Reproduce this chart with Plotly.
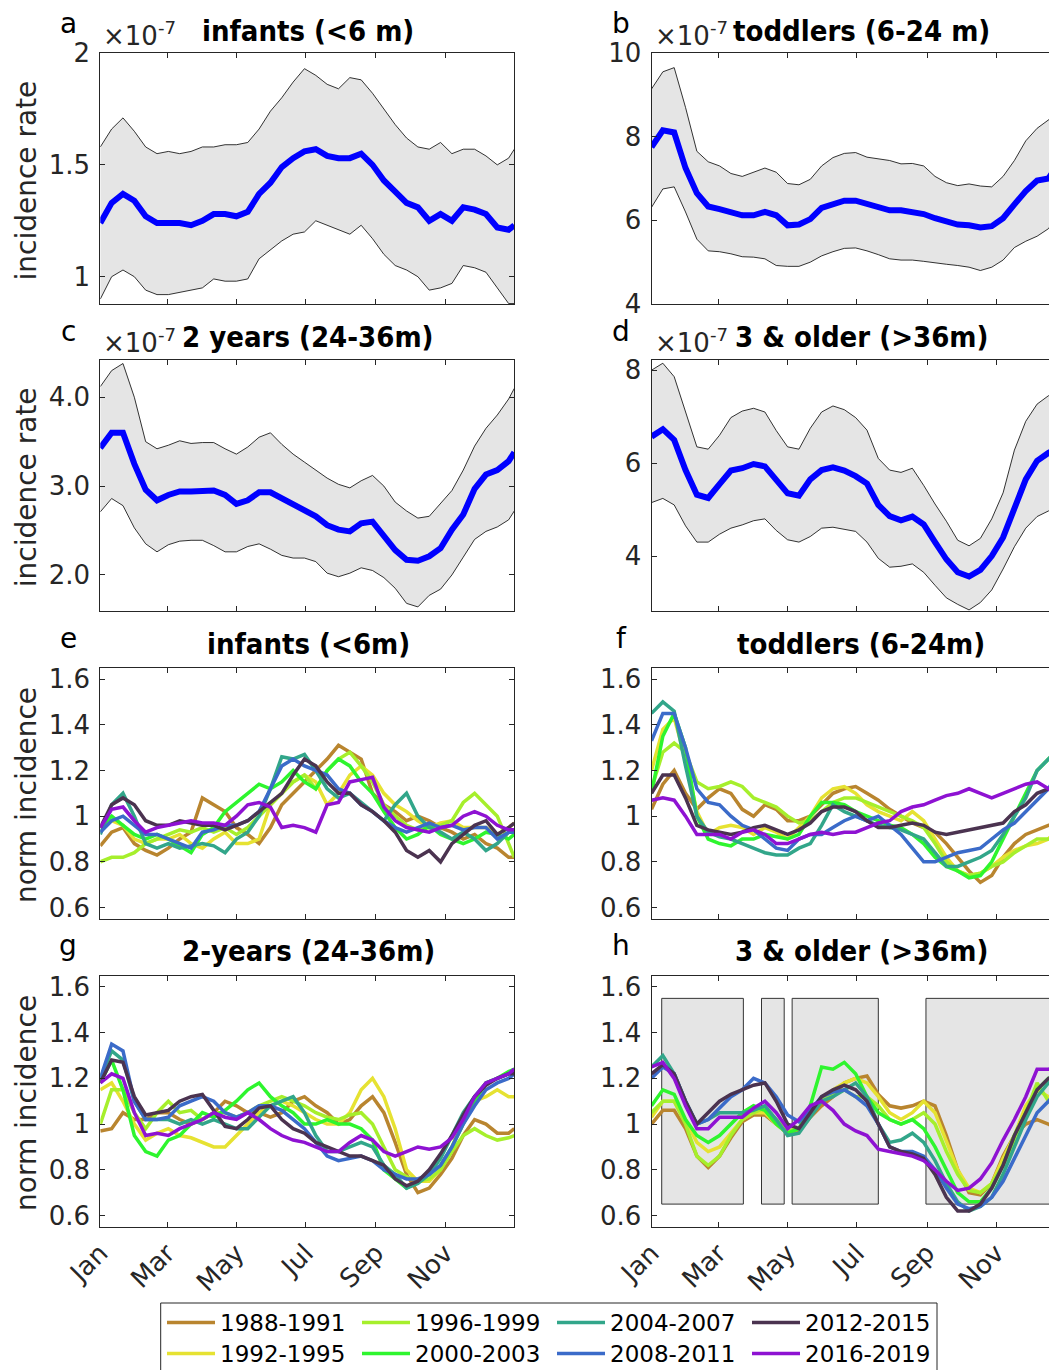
import plotly.graph_objects as go

# ---------------- data ----------------
DAYS = [0, 10, 20, 30, 40, 50, 60, 70, 80, 90, 100, 110, 120, 130, 140, 150, 160, 170, 180,
        190, 200, 210, 220, 230, 240, 250, 260, 270, 280, 290, 300, 310, 320, 330, 340, 350, 360, 365]
MONTH_TICKS = [0, 59, 120, 181, 243, 304]
MONTH_LABELS = ["Jan", "Mar", "May", "Jul", "Sep", "Nov"]

# panel a (x1e-7)
A_MEAN = [1.24, 1.33, 1.37, 1.34, 1.27, 1.24, 1.24, 1.24, 1.23, 1.25, 1.28, 1.28, 1.27, 1.29, 1.37, 1.42, 1.49, 1.53, 1.56,
          1.57, 1.54, 1.53, 1.53, 1.55, 1.50, 1.43, 1.38, 1.33, 1.31, 1.25, 1.28, 1.25, 1.31, 1.30, 1.28, 1.22, 1.21, 1.23]
A_UP = [1.58, 1.66, 1.71, 1.65, 1.58, 1.55, 1.56, 1.55, 1.56, 1.58, 1.58, 1.59, 1.59, 1.60, 1.66, 1.74, 1.80, 1.87, 1.93,
        1.90, 1.86, 1.84, 1.89, 1.88, 1.82, 1.75, 1.68, 1.62, 1.58, 1.57, 1.60, 1.55, 1.57, 1.57, 1.54, 1.50, 1.53, 1.57]
A_LO = [0.90, 1.00, 1.03, 1.00, 0.94, 0.92, 0.92, 0.93, 0.94, 0.95, 0.99, 0.98, 0.98, 0.99, 1.08, 1.12, 1.16, 1.19, 1.20,
        1.25, 1.23, 1.21, 1.19, 1.23, 1.17, 1.10, 1.05, 1.03, 1.00, 0.94, 0.95, 0.97, 1.05, 1.04, 1.02, 0.95, 0.88, 0.88]
# panel b
B_MEAN = [7.75, 8.15, 8.10, 7.25, 6.65, 6.33, 6.27, 6.20, 6.12, 6.12, 6.20, 6.12, 5.88, 5.90, 6.03, 6.30, 6.40, 6.47, 6.47,
          6.39, 6.32, 6.24, 6.24, 6.20, 6.15, 6.05, 5.98, 5.90, 5.88, 5.83, 5.86, 6.05, 6.38, 6.70, 6.95, 7.00, 7.40, 7.60]
B_UP = [9.14, 9.55, 9.65, 8.70, 7.65, 7.40, 7.30, 7.12, 7.05, 7.15, 7.25, 7.15, 6.88, 6.85, 6.98, 7.30, 7.50, 7.60, 7.62,
        7.51, 7.47, 7.43, 7.35, 7.36, 7.30, 7.05, 6.90, 6.83, 6.87, 6.82, 6.80, 7.05, 7.43, 7.90, 8.20, 8.40, 8.60, 8.80]
B_LO = [6.31, 6.75, 6.80, 6.20, 5.55, 5.27, 5.25, 5.20, 5.13, 5.12, 5.08, 4.92, 4.90, 4.90, 5.00, 5.15, 5.25, 5.33, 5.34,
        5.27, 5.18, 5.08, 5.05, 5.05, 5.02, 4.98, 4.95, 4.92, 4.88, 4.80, 4.88, 5.05, 5.35, 5.50, 5.62, 5.80, 6.20, 6.40]
# panel c
C_MEAN = [3.43, 3.60, 3.60, 3.25, 2.96, 2.84, 2.90, 2.94, 2.94, 2.94, 2.95, 2.90, 2.80, 2.84, 2.93, 2.93, 2.86, 2.79, 2.73,
          2.66, 2.56, 2.51, 2.49, 2.58, 2.60, 2.45, 2.28, 2.17, 2.16, 2.21, 2.30, 2.51, 2.68, 2.97, 3.13, 3.18, 3.28, 3.38]
C_UP = [4.12, 4.30, 4.38, 4.00, 3.50, 3.42, 3.46, 3.51, 3.48, 3.49, 3.49, 3.42, 3.36, 3.44, 3.55, 3.60, 3.47, 3.36, 3.27,
        3.18, 3.09, 3.02, 2.98, 3.06, 3.12, 3.00, 2.82, 2.72, 2.64, 2.66, 2.80, 2.95, 3.18, 3.45, 3.65, 3.80, 3.98, 4.10]
C_LO = [2.71, 2.86, 2.78, 2.53, 2.35, 2.26, 2.34, 2.38, 2.39, 2.39, 2.33, 2.26, 2.26, 2.32, 2.35, 2.29, 2.22, 2.19, 2.19,
        2.15, 2.02, 1.98, 2.02, 2.08, 2.05, 1.97, 1.85, 1.68, 1.64, 1.77, 1.84, 2.00, 2.20, 2.40, 2.49, 2.54, 2.62, 2.72]
# panel d
D_MEAN = [6.57, 6.73, 6.50, 5.85, 5.32, 5.25, 5.55, 5.84, 5.89, 5.98, 5.93, 5.66, 5.35, 5.30, 5.65, 5.85, 5.91, 5.84, 5.72,
          5.56, 5.10, 4.86, 4.77, 4.85, 4.68, 4.30, 3.93, 3.65, 3.56, 3.70, 4.00, 4.40, 4.99, 5.65, 6.05, 6.22, 6.35, 6.40]
D_UP = [8.00, 8.15, 7.86, 7.10, 6.35, 6.30, 6.60, 6.98, 7.12, 7.18, 7.10, 6.70, 6.35, 6.30, 6.75, 7.10, 7.23, 7.15, 6.98,
        6.71, 6.10, 5.85, 5.80, 5.89, 5.52, 5.12, 4.75, 4.34, 4.22, 4.38, 4.80, 5.36, 6.28, 6.90, 7.27, 7.45, 7.55, 7.60]
D_LO = [5.15, 5.24, 5.10, 4.65, 4.30, 4.30, 4.47, 4.60, 4.67, 4.76, 4.80, 4.55, 4.35, 4.30, 4.42, 4.60, 4.62, 4.58, 4.53,
        4.30, 3.95, 3.76, 3.78, 3.83, 3.65, 3.37, 3.10, 2.96, 2.84, 3.00, 3.27, 3.72, 4.20, 4.60, 4.85, 4.97, 5.10, 5.15]

PERIODS = ["1988-1991", "1992-1995", "1996-1999", "2000-2003", "2004-2007", "2008-2011", "2012-2015", "2016-2019"]
PERIOD_COLORS = ["#b9852f", "#e6e232", "#a6ef2c", "#2ef52e", "#32a68a", "#3b6bc9", "#4b3350", "#8e12d2"]

# panel e: infants normalized
E_NORM = [
    [0.87, 0.93, 0.95, 0.88, 0.85, 0.83, 0.86, 0.90, 0.93, 1.08, 1.05, 1.02, 0.95, 0.92, 0.88, 0.95, 1.05, 1.10, 1.15,
     1.20, 1.25, 1.31, 1.28, 1.25, 1.10, 1.05, 1.02, 0.98, 1.00, 0.98, 0.95, 0.93, 0.90, 0.92, 0.88, 0.86, 0.82, 0.82],
    [0.95, 0.98, 0.96, 0.90, 0.88, 0.90, 0.90, 0.92, 0.88, 0.86, 0.90, 0.93, 0.88, 0.88, 0.90, 1.05, 1.10, 1.15, 1.18,
     1.15, 1.05, 1.10, 1.18, 1.22, 1.18, 1.10, 1.05, 1.02, 0.98, 0.95, 0.97, 0.98, 0.95, 0.95, 0.95, 0.92, 0.95, 0.97],
    [0.80, 0.82, 0.82, 0.84, 0.88, 0.90, 0.92, 0.94, 0.93, 0.95, 0.93, 0.95, 0.92, 0.95, 1.00, 1.05, 1.10, 1.15, 1.18,
     1.12, 1.20, 1.25, 1.28, 1.22, 1.15, 1.05, 1.00, 0.96, 0.94, 0.95, 0.96, 0.98, 1.06, 1.10, 1.05, 1.00, 0.88, 0.82],
    [0.95, 1.00, 0.96, 0.92, 0.90, 0.92, 0.90, 0.87, 0.84, 0.92, 0.95, 1.02, 1.06, 1.10, 1.14, 1.12, 1.15, 1.20, 1.15,
     1.12, 1.20, 1.25, 1.22, 1.15, 1.10, 1.02, 0.95, 0.90, 0.92, 0.96, 0.92, 0.90, 0.88, 0.90, 0.93, 0.92, 0.90, 0.92],
    [0.92, 1.05, 1.10, 1.00, 0.88, 0.86, 0.88, 0.86, 0.87, 0.88, 0.87, 0.84, 0.90, 0.93, 1.00, 1.12, 1.26, 1.25, 1.27,
     1.20, 1.12, 1.08, 1.10, 1.06, 1.02, 0.98, 1.05, 1.10, 1.00, 0.95, 0.93, 0.90, 0.93, 0.90, 0.85, 0.88, 0.93, 0.93],
    [0.93, 0.98, 1.00, 0.96, 0.92, 0.92, 0.90, 0.88, 0.86, 0.93, 0.94, 0.96, 0.96, 0.98, 1.02, 1.12, 1.22, 1.25, 1.22,
     1.20, 1.18, 1.12, 1.10, 1.05, 1.02, 0.98, 0.95, 0.93, 0.95, 0.97, 0.95, 0.96, 0.94, 0.95, 0.95, 0.90, 0.93, 0.93],
    [0.95, 1.05, 1.08, 1.05, 0.98, 0.96, 0.96, 0.98, 0.97, 0.96, 0.96, 0.94, 0.96, 0.98, 1.02, 1.06, 1.10, 1.18, 1.25,
     1.22, 1.15, 1.10, 1.10, 1.05, 1.02, 0.98, 0.93, 0.85, 0.82, 0.85, 0.80, 0.88, 0.92, 0.96, 0.98, 0.92, 0.95, 0.97],
    [0.95, 1.03, 1.04, 0.98, 0.93, 0.95, 0.96, 0.97, 0.98, 0.97, 0.97, 0.96, 1.00, 1.05, 1.06, 1.04, 0.95, 0.96, 0.95,
     0.93, 1.05, 1.06, 1.15, 1.16, 1.17, 1.04, 0.98, 0.95, 0.94, 0.93, 0.95, 0.96, 1.00, 1.02, 1.00, 0.96, 0.94, 0.94],
]
# panel f: toddlers normalized
F_NORM = [
    [1.03, 1.14, 1.20, 1.10, 1.03, 1.08, 1.12, 1.10, 1.03, 1.00, 1.05, 1.03, 0.98, 0.98, 1.00, 1.05, 1.10, 1.12, 1.13,
     1.10, 1.07, 1.03, 1.00, 0.97, 0.95, 0.93, 0.88, 0.82, 0.76, 0.71, 0.74, 0.82, 0.88, 0.92, 0.94, 0.96, 0.98, 1.00],
    [1.20, 1.38, 1.43, 1.25, 1.02, 0.92, 0.95, 0.96, 0.95, 0.92, 0.95, 0.93, 0.90, 0.95, 1.00, 1.08, 1.12, 1.13, 1.10,
     1.05, 1.02, 1.00, 0.98, 1.02, 0.98, 0.90, 0.82, 0.76, 0.74, 0.75, 0.78, 0.82, 0.85, 0.87, 0.88, 0.90, 0.95, 0.98],
    [1.12, 1.28, 1.32, 1.28, 1.15, 1.12, 1.13, 1.15, 1.13, 1.08, 1.06, 1.04, 1.00, 0.97, 0.98, 1.02, 1.06, 1.08, 1.08,
     1.06, 1.04, 1.02, 1.00, 0.98, 0.95, 0.88, 0.80, 0.76, 0.74, 0.75, 0.78, 0.80, 0.84, 0.87, 0.90, 0.90, 0.92, 0.95],
    [1.10, 1.35, 1.45, 1.30, 1.00, 0.90, 0.88, 0.87, 0.90, 0.90, 0.92, 0.91, 0.90, 0.92, 1.00, 1.06, 1.06, 1.05, 1.02,
     1.00, 0.98, 0.96, 0.95, 0.92, 0.88, 0.82, 0.78, 0.76, 0.73, 0.74, 0.80, 0.90, 1.00, 1.10, 1.20, 1.25, 1.30, 1.35],
    [1.45, 1.50, 1.46, 1.22, 1.00, 0.93, 0.91, 0.90, 0.88, 0.86, 0.84, 0.83, 0.83, 0.86, 0.88, 0.96, 1.05, 1.02, 1.00,
     0.98, 0.96, 0.95, 0.94, 0.92, 0.90, 0.84, 0.78, 0.78, 0.80, 0.82, 0.85, 0.92, 1.00, 1.08, 1.20, 1.25, 1.30, 1.38],
    [1.33, 1.45, 1.45, 1.30, 1.12, 1.06, 1.05, 1.00, 0.96, 0.94, 0.90, 0.86, 0.85, 0.90, 0.92, 0.92, 0.95, 0.98, 1.00,
     0.98, 1.00, 0.96, 0.92, 0.86, 0.80, 0.80, 0.82, 0.84, 0.85, 0.86, 0.90, 0.94, 0.97, 1.02, 1.07, 1.12, 1.20, 1.25],
    [1.10, 1.18, 1.18, 1.08, 0.96, 0.94, 0.93, 0.92, 0.93, 0.95, 0.96, 0.94, 0.92, 0.94, 0.97, 1.02, 1.04, 1.04, 1.02,
     0.98, 0.95, 0.95, 0.96, 0.97, 0.96, 0.93, 0.92, 0.93, 0.94, 0.95, 0.96, 0.97, 1.02, 1.05, 1.10, 1.12, 1.12, 1.12],
    [1.07, 1.08, 1.07, 1.00, 0.92, 0.92, 0.92, 0.90, 0.93, 0.94, 0.92, 0.88, 0.88, 0.90, 0.92, 0.93, 0.92, 0.93, 0.93,
     0.95, 0.97, 0.98, 1.02, 1.04, 1.05, 1.07, 1.09, 1.10, 1.12, 1.10, 1.08, 1.10, 1.12, 1.14, 1.15, 1.12, 1.08, 1.10],
]
# panel g: 2-years normalized
G_NORM = [
    [0.97, 0.98, 1.05, 1.02, 1.02, 1.05, 1.05, 1.02, 1.00, 1.02, 1.05, 1.10, 1.08, 1.05, 1.05, 1.03, 1.05, 1.10, 1.12,
     1.08, 1.05, 1.00, 1.02, 1.08, 1.12, 1.05, 0.92, 0.78, 0.70, 0.72, 0.78, 0.85, 0.95, 1.02, 1.00, 0.96, 0.96, 0.98],
    [1.15, 1.18, 1.10, 1.00, 0.93, 0.96, 0.98, 0.95, 0.94, 0.92, 0.90, 0.90, 0.95, 1.00, 1.05, 1.08, 1.10, 1.08, 1.05,
     1.02, 1.00, 1.00, 1.05, 1.15, 1.20, 1.12, 0.98, 0.80, 0.75, 0.75, 0.80, 0.90, 1.02, 1.10, 1.12, 1.15, 1.12, 1.12],
    [1.00, 1.15, 1.15, 1.05, 0.98, 1.05, 1.10, 1.05, 1.06, 1.02, 1.05, 1.05, 1.03, 1.05, 1.08, 1.10, 1.12, 1.10, 1.08,
     1.05, 1.03, 1.02, 1.04, 1.05, 1.00, 0.90, 0.80, 0.77, 0.75, 0.76, 0.80, 0.88, 0.95, 0.98, 0.95, 0.93, 0.94, 0.95],
    [1.18, 1.28, 1.15, 0.95, 0.88, 0.86, 0.93, 0.95, 1.00, 1.05, 1.03, 1.06, 1.10, 1.15, 1.18, 1.12, 1.08, 1.05, 1.00,
     1.00, 1.02, 1.00, 1.00, 0.98, 0.93, 0.80, 0.76, 0.72, 0.75, 0.78, 0.82, 0.90, 1.00, 1.10, 1.18, 1.20, 1.23, 1.24],
    [1.20, 1.32, 1.28, 1.10, 1.02, 1.02, 1.02, 1.00, 1.02, 1.00, 1.02, 1.00, 0.98, 0.98, 1.03, 1.08, 1.10, 1.12, 1.05,
     0.95, 0.88, 0.88, 0.90, 0.92, 0.90, 0.82, 0.78, 0.72, 0.74, 0.78, 0.85, 0.95, 1.05, 1.12, 1.18, 1.20, 1.22, 1.24],
    [1.20, 1.35, 1.32, 1.10, 1.02, 1.02, 1.03, 1.08, 1.10, 1.12, 1.10, 1.05, 1.03, 1.05, 1.08, 1.08, 1.06, 1.02, 0.98,
     0.92, 0.86, 0.84, 0.85, 0.86, 0.84, 0.80, 0.78, 0.76, 0.76, 0.78, 0.82, 0.90, 1.00, 1.08, 1.15, 1.18, 1.20, 1.22],
    [1.18, 1.28, 1.27, 1.12, 1.04, 1.05, 1.06, 1.10, 1.12, 1.13, 1.06, 0.99, 0.98, 1.02, 1.07, 1.08, 1.02, 0.98, 0.96,
     0.92, 0.90, 0.88, 0.86, 0.86, 0.84, 0.82, 0.76, 0.73, 0.75, 0.80, 0.87, 0.95, 1.04, 1.12, 1.17, 1.20, 1.22, 1.22],
    [1.18, 1.22, 1.20, 1.05, 0.95, 0.96, 0.95, 0.98, 1.00, 1.02, 1.05, 1.03, 1.02, 1.05, 1.02, 0.98, 0.95, 0.93, 0.92,
     0.90, 0.88, 0.88, 0.92, 0.95, 0.93, 0.88, 0.86, 0.88, 0.90, 0.89, 0.90, 0.94, 1.02, 1.12, 1.18, 1.20, 1.22, 1.24],
]
# panel h: 3 & older normalized
H_NORM = [
    [1.00, 1.06, 1.06, 0.98, 0.86, 0.81, 0.86, 0.94, 1.01, 1.04, 1.04, 1.00, 0.96, 0.97, 1.03, 1.08, 1.12, 1.18, 1.20,
     1.21, 1.13, 1.08, 1.07, 1.08, 1.10, 1.08, 0.95, 0.80, 0.70, 0.69, 0.74, 0.86, 0.95, 1.00, 1.02, 1.00, 0.97, 0.96],
    [1.03, 1.10, 1.10, 1.02, 0.92, 0.88, 0.90, 0.96, 1.02, 1.05, 1.05, 1.00, 0.96, 0.98, 1.05, 1.10, 1.15, 1.18, 1.20,
     1.18, 1.12, 1.05, 1.02, 1.05, 1.10, 1.05, 0.92, 0.80, 0.72, 0.70, 0.74, 0.85, 0.95, 1.08, 1.15, 1.12, 1.12, 1.12],
    [1.05, 1.10, 1.10, 1.00, 0.86, 0.82, 0.86, 0.95, 1.02, 1.05, 1.07, 1.02, 0.97, 0.98, 1.05, 1.10, 1.13, 1.15, 1.12,
     1.12, 1.08, 1.02, 1.00, 1.02, 1.05, 1.00, 0.88, 0.78, 0.71, 0.70, 0.74, 0.82, 0.92, 1.05, 1.18, 1.10, 1.05, 1.05],
    [1.08, 1.15, 1.13, 1.02, 0.95, 0.92, 0.95, 1.00, 1.05, 1.08, 1.06, 1.00, 0.96, 0.98, 1.08, 1.25, 1.24, 1.27, 1.22,
     1.12, 1.05, 1.02, 1.00, 1.02, 0.98, 0.90, 0.80, 0.70, 0.66, 0.66, 0.72, 0.82, 0.95, 1.05, 1.15, 1.20, 1.18, 1.16],
    [1.25, 1.30, 1.22, 1.10, 1.00, 1.02, 1.05, 1.05, 1.05, 1.06, 1.08, 1.02, 0.95, 0.96, 1.03, 1.10, 1.12, 1.15, 1.18,
     1.12, 1.00, 0.92, 0.93, 0.96, 0.92, 0.84, 0.74, 0.66, 0.62, 0.64, 0.68, 0.78, 0.90, 1.02, 1.12, 1.18, 1.20, 1.20],
    [1.20, 1.25, 1.22, 1.10, 1.00, 1.02, 1.07, 1.12, 1.15, 1.20, 1.18, 1.12, 1.04, 1.01, 1.06, 1.12, 1.14, 1.15, 1.12,
     1.08, 1.00, 0.90, 0.88, 0.88, 0.86, 0.80, 0.72, 0.65, 0.63, 0.64, 0.68, 0.75, 0.85, 0.95, 1.05, 1.10, 1.15, 1.18],
    [1.22, 1.26, 1.22, 1.10, 1.00, 1.05, 1.10, 1.13, 1.15, 1.17, 1.18, 1.10, 1.00, 0.98, 1.05, 1.12, 1.15, 1.17, 1.15,
     1.10, 1.00, 0.90, 0.88, 0.87, 0.85, 0.78, 0.68, 0.62, 0.62, 0.65, 0.72, 0.82, 0.95, 1.05, 1.15, 1.20, 1.22, 1.22],
    [1.25, 1.27, 1.20, 1.08, 0.98, 0.98, 1.03, 1.03, 1.03, 1.07, 1.10, 1.05, 0.98, 1.02, 1.08, 1.10, 1.06, 1.00, 0.97,
     0.95, 0.89, 0.88, 0.87, 0.86, 0.84, 0.80, 0.75, 0.71, 0.72, 0.76, 0.83, 0.93, 1.02, 1.12, 1.24, 1.24, 1.25, 1.25],
]
H_BAND_START = [9, 97, 124, 242]
H_BAND_END = [81, 117, 200, 380]
H_BAND_LOW, H_BAND_HIGH = 0.65, 1.55

A_TICKS, A_TICKTEXT = [1, 1.5, 2], ["1", "1.5", "2"]
B_TICKS = [4, 6, 8, 10]
C_TICKS, C_TICKTEXT = [2, 3, 4], ["2.0", "3.0", "4.0"]
D_TICKS = [4, 6, 8]
N_TICKS = [0.6, 0.8, 1.0, 1.2, 1.4, 1.6]
N_TICKTEXT = ["0.6", "0.8", "1", "1.2", "1.4", "1.6"]

TITLES = ["infants (&lt;6 m)", "toddlers (6-24 m)", "2 years (24-36m)", "3 &amp; older (&gt;36m)",
          "infants (&lt;6m)", "toddlers (6-24m)", "2-years (24-36m)", "3 &amp; older (&gt;36m)"]
LETTERS = ["a", "b", "c", "d", "e", "f", "g", "h"]

# ---------------- layout geometry (page pixels; page body adds an 8 px offset) ----------------
W, H = 1057, 1370
OFF = 8
FONT = "DejaVu Sans"
AX = "#262626"


def fx(p):
    return (p - OFF) / W


def fy(p):
    return 1 - (p - OFF) / H


COLS = [(100.3, 514.3), (651.5, 1065.0)]
XRANGES = [[0, 365], [0, 364.6]]
ROWS = [(53.0, 304.0), (359.5, 611.0), (667.7, 918.5), (975.5, 1226.5)]
YRANGES = [[0.878, 2.0], [4, 10], [1.594, 4.425], [2.817, 8.23],
           [0.552, 1.65], [0.552, 1.65], [0.552, 1.65], [0.552, 1.65]]

fig = go.Figure()


def axname(i, kind):
    return kind if i == 0 else f"{kind}{i + 1}"


def band_panel(i, lo, up, mean):
    xa, ya = f"x{i + 1}" if i else "x", f"y{i + 1}" if i else "y"
    fig.add_trace(go.Scatter(x=DAYS, y=lo, mode="lines", line=dict(color="black", width=0.8),
                             xaxis=xa, yaxis=ya, showlegend=False, hoverinfo="skip"))
    fig.add_trace(go.Scatter(x=DAYS, y=up, mode="lines", line=dict(color="black", width=0.8),
                             fill="tonexty", fillcolor="#e5e5e5",
                             xaxis=xa, yaxis=ya, showlegend=False, hoverinfo="skip"))
    fig.add_trace(go.Scatter(x=DAYS, y=mean, mode="lines", line=dict(color="#0000ff", width=6),
                             xaxis=xa, yaxis=ya, showlegend=False))


band_panel(0, A_LO, A_UP, A_MEAN)
band_panel(1, B_LO, B_UP, B_MEAN)
band_panel(2, C_LO, C_UP, C_MEAN)
band_panel(3, D_LO, D_UP, D_MEAN)

ROW1_LEG = {"1988-1991", "1996-1999", "2004-2007", "2012-2015"}
for pi, data in zip([4, 5, 6, 7], [E_NORM, F_NORM, G_NORM, H_NORM]):
    xa, ya = f"x{pi + 1}", f"y{pi + 1}"
    for name, col, ys in zip(PERIODS, PERIOD_COLORS, data):
        fig.add_trace(go.Scatter(x=DAYS, y=ys, mode="lines", name=name,
                                 line=dict(color=col, width=3.5),
                                 xaxis=xa, yaxis=ya, legendgroup=name,
                                 showlegend=(pi == 4),
                                 legend="legend" if name in ROW1_LEG else "legend2"))

# shaded periods in panel h
shapes = []
for s, e in zip(H_BAND_START, H_BAND_END):
    shapes.append(dict(type="rect", xref="x8", yref="y8", x0=s, x1=e, y0=H_BAND_LOW, y1=H_BAND_HIGH,
                       fillcolor="#e5e5e5", line=dict(color="#333333", width=1), layer="below"))
# legend frame
shapes.append(dict(type="rect", xref="paper", yref="paper", x0=fx(160.7), x1=fx(937), y0=-0.02, y1=fy(1303),
                   line=dict(color=AX, width=1), fillcolor="rgba(0,0,0,0)"))

layout = dict(width=W, height=H, autosize=False, margin=dict(l=0, r=0, t=0, b=0, pad=0, autoexpand=False),
              paper_bgcolor="white", plot_bgcolor="white", font=dict(family=FONT, color=AX),
              shapes=shapes)

for i in range(8):
    col = i % 2
    row = i // 2
    x0, x1 = COLS[col]
    top, bot = ROWS[row]
    xa = dict(domain=[fx(x0), min(1.0, fx(x1))], range=XRANGES[col], anchor=axname(i, "y"), automargin=False,
              tickvals=MONTH_TICKS, ticktext=MONTH_LABELS, showticklabels=(row == 3), tickangle=-45,
              showline=True, linecolor=AX, linewidth=1, mirror="ticks", ticks="inside", ticklen=5,
              tickcolor=AX, showgrid=False, zeroline=False,
              tickfont=dict(family=FONT, size=26, color=AX))
    ya = dict(domain=[fy(bot), fy(top)], range=YRANGES[i], anchor=axname(i, "x"), automargin=False,
              showline=True, linecolor=AX, linewidth=1, mirror="ticks" if col == 0 else False,
              ticks="inside", ticklen=5, tickcolor=AX, showgrid=False, zeroline=False,
              tickfont=dict(family=FONT, size=26, color=AX), ticklabelstandoff=4)
    if i == 0:
        ya.update(tickvals=A_TICKS, ticktext=A_TICKTEXT)
    elif i == 1:
        ya.update(tickvals=B_TICKS)
    elif i == 2:
        ya.update(tickvals=C_TICKS, ticktext=C_TICKTEXT)
    elif i == 3:
        ya.update(tickvals=D_TICKS)
    else:
        ya.update(tickvals=N_TICKS, ticktext=N_TICKTEXT)
    layout[axname(i, "xaxis")] = xa
    layout[axname(i, "yaxis")] = ya

ann = []
LETTER_X = [68, 621]
ROW_BASE = [34, 342, 649, 956]
TITLE_X = [308, 861]
TITLE_BASE = [42, 348, 655, 962]
for i in range(8):
    col, row = i % 2, i // 2
    ann.append(dict(text=LETTERS[i], xref="paper", yref="paper", x=fx(LETTER_X[col]),
                    y=fy(ROW_BASE[row] + 8), xanchor="center", yanchor="bottom", showarrow=False,
                    font=dict(family=FONT, size=28, color="black")))
    ann.append(dict(text="<b>" + TITLES[i] + "</b>", xref="paper", yref="paper", x=fx(TITLE_X[col]),
                    y=fy(TITLE_BASE[row] + 8), xanchor="center", yanchor="bottom", showarrow=False,
                    font=dict(family="DejaVu Sans Condensed, DejaVu Sans", size=29, color="black")))
for i in range(4):
    col, row = i % 2, i // 2
    ann.append(dict(text="×10<sup>-7</sup>", xref="paper", yref="paper", x=fx([101, 653][col]),
                    y=fy([46, 353][row] + 7), xanchor="left", yanchor="bottom", showarrow=False,
                    font=dict(family=FONT, size=26, color=AX)))
YTITLES = ["incidence rate", "incidence rate", "norm incidence", "norm incidence"]
for row in range(4):
    top, bot = ROWS[row]
    ann.append(dict(text=YTITLES[row], xref="paper", yref="paper", x=fx(26), y=fy((top + bot) / 2 + 2),
                    xanchor="center", yanchor="middle", textangle=-90, showarrow=False,
                    font=dict(family=FONT, size=28, color=AX)))
layout["annotations"] = ann

leg_common = dict(orientation="h", xanchor="left", yanchor="top", bgcolor="rgba(0,0,0,0)",
                  borderwidth=0, font=dict(family=FONT, size=23, color="black"),
                  entrywidth=132, entrywidthmode="pixels", itemwidth=48, tracegroupgap=0)
layout["legend"] = dict(leg_common, x=fx(162), y=fy(1301))
layout["legend2"] = dict(leg_common, x=fx(162), y=fy(1332))

fig.update_layout(**layout)
fig.write_html("out.html")
